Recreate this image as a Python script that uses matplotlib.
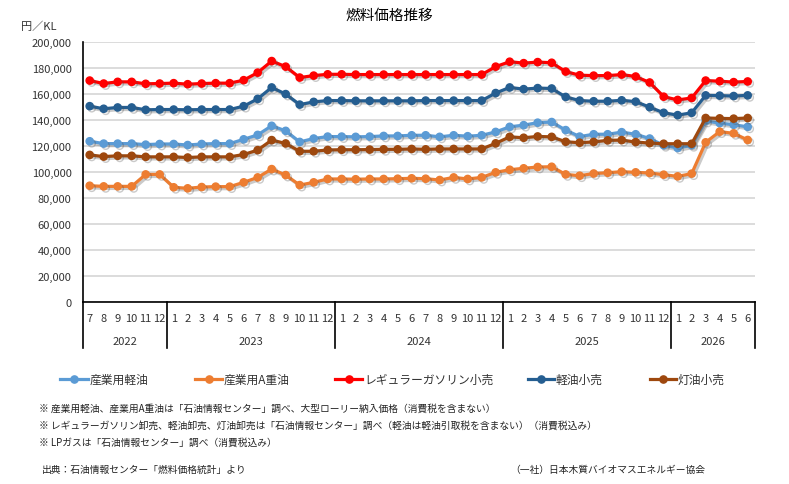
import matplotlib
matplotlib.use("Agg")
import matplotlib.pyplot as plt
import matplotlib.patheffects as pe
import matplotlib.transforms as mtransforms

plt.rcParams['font.family'] = ['Noto Sans CJK JP', 'DejaVu Sans']

# 2022/7 - 2026/6 monthly
years = ["2022", "2023", "2024", "2025", "2026"]
year_months = [list(range(7, 13)), list(range(1, 13)), list(range(1, 13)),
               list(range(1, 13)), list(range(1, 7))]
month_labels = [str(m) for ms in year_months for m in ms]

sangyo_keiyu = [123.4, 121.6, 121.6, 121.6, 120.8, 121.3, 121.3, 120.5, 121.3, 121.6, 121.6, 124.9,
                128.3, 135.3, 131.4, 122.9, 125.5, 127.0, 127.0, 126.8, 127.0, 127.5, 127.5, 128.0,
                128.0, 126.8, 128.0, 127.3, 128.0, 130.6, 134.5, 135.8, 137.7, 138.2, 132.0, 127.0,
                128.8, 128.8, 130.4, 128.8, 125.5, 120.3, 118.2, 120.3, 139.0, 137.4, 136.1, 134.5]
sangyo_a_juyu = [89.2, 88.7, 88.7, 88.7, 97.9, 97.9, 88.0, 87.2, 88.2, 88.5, 88.5, 91.8,
                 95.6, 102.0, 97.4, 89.7, 91.8, 94.4, 94.4, 94.2, 94.4, 94.4, 94.6, 94.9,
                 94.6, 93.6, 95.6, 94.4, 95.6, 99.5, 101.5, 102.6, 103.6, 103.8, 97.9, 96.9,
                 98.6, 99.2, 100.0, 99.5, 99.0, 97.7, 96.4, 98.5, 122.6, 130.8, 129.5, 124.4]
regular = [170.1, 167.8, 169.1, 169.1, 167.6, 167.8, 168.1, 167.3, 167.8, 168.1, 168.1, 170.4,
           176.2, 185.1, 180.8, 172.4, 173.9, 174.9, 174.9, 174.7, 174.7, 174.7, 174.7, 174.7,
           174.7, 174.7, 174.7, 174.7, 174.7, 180.8, 184.6, 183.5, 184.3, 183.8, 177.0, 174.2,
           173.9, 173.9, 174.7, 173.2, 168.6, 157.7, 155.2, 156.7, 170.1, 169.6, 168.9, 169.4]
keiyu_kouri = [150.4, 148.4, 149.4, 149.4, 147.6, 147.8, 147.8, 147.6, 147.8, 147.8, 147.8, 150.4,
               156.0, 164.8, 159.7, 151.6, 153.7, 154.7, 154.7, 154.5, 154.5, 154.5, 154.5, 154.5,
               154.7, 154.7, 154.7, 154.7, 154.7, 160.5, 164.8, 163.5, 164.3, 164.0, 157.5, 154.7,
               154.2, 154.2, 154.9, 153.9, 149.6, 145.3, 143.5, 145.3, 158.7, 158.5, 158.2, 158.7]
touyu_kouri = [112.9, 111.6, 112.2, 112.2, 111.4, 111.4, 111.4, 110.9, 111.4, 111.4, 111.4, 113.2,
               116.6, 124.3, 121.7, 115.7, 115.7, 116.7, 116.9, 116.9, 117.0, 117.2, 117.2, 117.5,
               117.2, 117.5, 117.5, 117.5, 117.5, 121.8, 126.8, 126.1, 127.1, 126.8, 123.0, 122.3,
               122.9, 124.1, 124.3, 122.8, 122.0, 121.5, 121.5, 121.5, 141.3, 141.0, 140.8, 141.3]

series = [
    ("産業用軽油", sangyo_keiyu, "#5B9BD5"),
    ("産業用A重油", sangyo_a_juyu, "#ED7D31"),
    ("レギュラーガソリン小売", regular, "#FF0000"),
    ("軽油小売", keiyu_kouri, "#255E91"),
    ("灯油小売", touyu_kouri, "#9E480E"),
]

fig = plt.figure(figsize=(7.89, 4.85), dpi=100)
ax = fig.add_axes([0.1048, 0.3759, 0.8517, 0.5361])

x = list(range(len(month_labels)))
shadow = [pe.SimpleLineShadow(offset=(1.5, -1.5), shadow_color="#505050", alpha=0.3), pe.Normal()]
handles = []
for name, vals, col in series:
    ln, = ax.plot(x, [v * 1000 for v in vals], color=col, lw=2.3, marker="o", ms=5.2,
                  label=name, path_effects=shadow, zorder=3)
    handles.append(ln)

ax.set_xlim(-0.5, len(x) - 0.5)
ax.set_ylim(0, 200000)
ax.set_yticks(range(0, 200001, 20000))
ax.set_yticklabels([f"{v:,}" for v in range(0, 200001, 20000)], fontsize=8, color="#333333")
ax.tick_params(axis="y", length=0, pad=8)
ax.set_xticks([])
ax.grid(axis="y", color="#d9d9d9", lw=1.3)
ax.set_axisbelow(True)
for s in ["top", "right"]:
    ax.spines[s].set_visible(False)
ax.spines["left"].set_linewidth(1.2)
ax.spines["bottom"].set_linewidth(1.2)

# two-level category axis
trans = mtransforms.blended_transform_factory(ax.transData, ax.transAxes)
for i, lab in enumerate(month_labels):
    ax.text(i, -0.063, lab, transform=trans, ha="center", va="center", fontsize=8, color="#333333")
start = -0.5
for yr, ms in zip(years, year_months):
    end = start + len(ms)
    ax.text((start + end) / 2, -0.153, yr, transform=trans, ha="center", va="center",
            fontsize=8, color="#333333")
    start = end
bounds = [-0.5]
for ms in year_months:
    bounds.append(bounds[-1] + len(ms))
for b in bounds:
    ax.plot([b, b], [0, -0.178], transform=trans, color="black", lw=1.2, clip_on=False)

fig.text(0.493, 0.967, "燃料価格推移", ha="center", va="center", fontsize=10.5, color="black")
fig.text(0.027, 0.944, "円／KL", ha="left", va="center", fontsize=8, color="#333333")

# legend drawn by hand to match spacing
leg_pos = [(60, 90), (195, 224), (335, 364), (528, 556), (650, 678)]
ly = 1 - 380 / 485
for (lx, tx), h in zip(leg_pos, handles):
    fig.add_artist(plt.Line2D([lx / 789, (tx - 2) / 789], [ly, ly], color=h.get_color(), lw=2.3))
    fig.add_artist(plt.Line2D([(lx + tx - 2) / 2 / 789], [ly], color=h.get_color(), marker="o", ms=5.2))
    fig.text(tx / 789, ly, h.get_label(), ha="left", va="center", fontsize=8.5, color="#333333")

notes = [
    "※ 産業用軽油、産業用A重油は「石油情報センター」調べ、大型ローリー納入価格（消費税を含まない）",
    "※ レギュラーガソリン卸売、軽油卸売、灯油卸売は「石油情報センター」調べ（軽油は軽油引取税を含まない）（消費税込み）",
    "※ LPガスは「石油情報センター」調べ（消費税込み）",
]
for yy, t in zip([409, 426, 443], notes):
    fig.text(39 / 789, 1 - yy / 485, t, ha="left", va="center", fontsize=7, color="#222222")
fig.text(42 / 789, 1 - 470 / 485, "出典：石油情報センター「燃料価格統計」より", ha="left", va="center",
         fontsize=7, color="#222222")
fig.text(510 / 789, 1 - 470 / 485, "（一社）日本木質バイオマスエネルギー協会", ha="left", va="center",
         fontsize=7, color="#222222")

fig.savefig("out.png", dpi=100)
